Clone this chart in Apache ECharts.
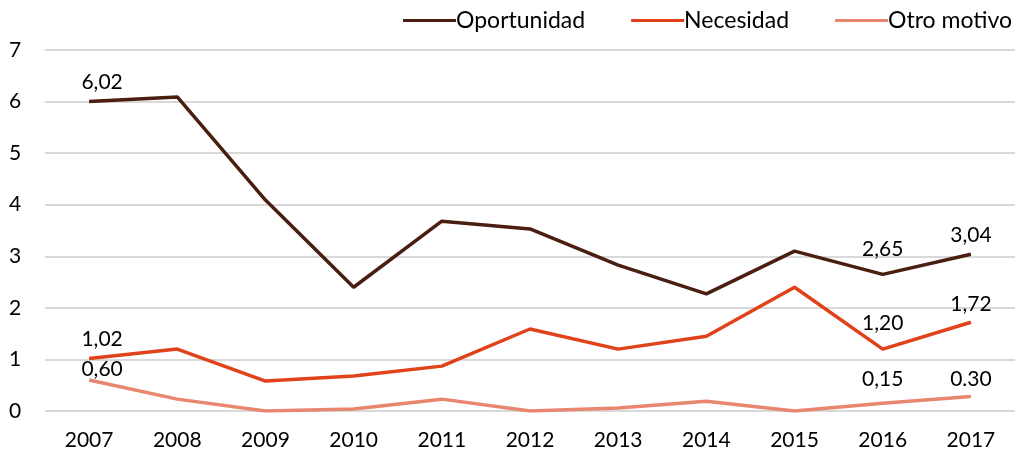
<!DOCTYPE html>
<html>
<head>
<meta charset="utf-8">
<script src="https://cdn.jsdelivr.net/npm/echarts@6/dist/echarts.min.js"></script>
<style>
  html, body { margin: 0; padding: 0; background: #fff; }
  #chart { width: 1023px; height: 456px; }
</style>
</head>
<body>
<div id="chart"></div>
<script>
// datos
var years = ['2007', '2008', '2009', '2010', '2011', '2012', '2013', '2014', '2015', '2016', '2017'];
var oportunidad = [6.0, 6.09, 4.09, 2.40, 3.68, 3.53, 2.83, 2.27, 3.10, 2.65, 3.04];
var necesidad = [1.02, 1.20, 0.58, 0.68, 0.87, 1.59, 1.20, 1.45, 2.40, 1.20, 1.72];
var otro = [0.60, 0.23, 0.0, 0.04, 0.23, 0.0, 0.06, 0.19, 0.0, 0.15, 0.28];
// etiquetas visibles (vacío = sin etiqueta)
var labOportunidad = ['6,02', '', '', '', '', '', '', '', '', '2,65', '3,04'];
var labNecesidad = ['1,02', '', '', '', '', '', '', '', '', '1,20', '1,72'];
var labOtro = ['0,60', '', '', '', '', '', '', '', '', '0,15', '0.30'];
var yTicks = [0, 1, 2, 3, 4, 5, 6, 7];

var fontName = 'Lato';

function conEtiquetas(vals, labs, dist, dist0) {
    return vals.map(function(v, i) {
        var lab = { show: labs[i] !== '', formatter: labs[i] };
        if (i === 0) {
            lab.offset = [13, 0];   // la primera etiqueta va corrida a la derecha
            lab.distance = dist0;
        }
        if (i === vals.length - 2) lab.distance = dist + 6;
        if (i === vals.length - 1) lab.distance = dist - 1;
        return { value: v, label: lab };
    });
}

function serie(name, vals, labs, color, dist, dist0) {
    return {
        name: name,
        type: 'line',
        data: conEtiquetas(vals, labs, dist, dist0),
        symbol: 'circle',
        symbolSize: 0,
        showSymbol: true,
        lineStyle: { color: color, width: 3.5 },
        itemStyle: { color: color },
        label: {
            position: 'top',
            distance: dist,
            color: '#000',
            fontFamily: fontName,
            fontSize: 21
        }
    };
}

var myChart = echarts.init(document.getElementById('chart'));

var option = {
    animation: false,
    grid: { left: 45, right: 8, top: 50, bottom: 45 },
    legend: {
        right: 6,
        top: 4,
        itemWidth: 53,
        itemHeight: 3,
        itemGap: 46,
        icon: 'rect',
        textStyle: { fontFamily: fontName, fontSize: 23, color: '#000', padding: [0, 0, 0, -5] },
        data: ['Oportunidad', 'Necesidad', 'Otro motivo']
    },
    xAxis: {
        type: 'category',
        data: years,
        axisLine: { show: false },
        axisTick: { show: false },
        axisLabel: { color: '#000', fontFamily: fontName, fontSize: 21, margin: 19 }
    },
    yAxis: {
        type: 'value',
        min: yTicks[0],
        max: yTicks[yTicks.length - 1],
        interval: 1,
        axisLine: { show: false },
        axisTick: { show: false },
        axisLabel: { color: '#000', fontFamily: fontName, fontSize: 21, margin: 30, align: 'center' },
        splitLine: { lineStyle: { color: '#d9d9d9', width: 2 } }
    },
    series: [
        serie('Oportunidad', oportunidad, labOportunidad, '#4a1e10', 9, 9),
        serie('Necesidad', necesidad, labNecesidad, '#e0421a', 9, 9),
        serie('Otro motivo', otro, labOtro, '#e8866f', 8, 0)
    ]
};

myChart.setOption(option);
</script>
</body>
</html>
